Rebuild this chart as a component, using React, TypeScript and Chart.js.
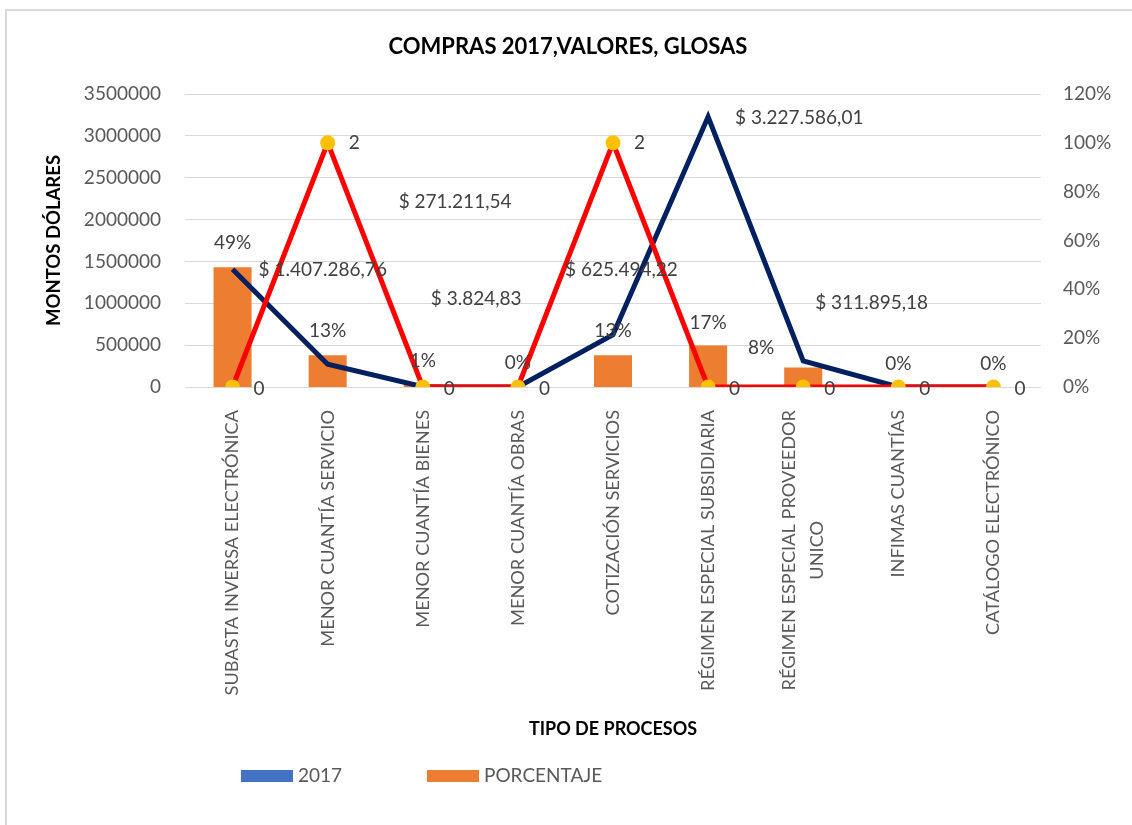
import React, { useEffect, useRef } from "react";
import { Chart, registerables } from "chart.js";

Chart.register(...registerables);

// ---------- DATA ----------
const categories: string[][] = [
  ["SUBASTA INVERSA ELECTRÓNICA"],
  ["MENOR CUANTÍA SERVICIO"],
  ["MENOR CUANTÍA BIENES"],
  ["MENOR CUANTÍA OBRAS"],
  ["COTIZACIÓN SERVICIOS"],
  ["RÉGIMEN ESPECIAL SUBSIDIARIA"],
  ["RÉGIMEN ESPECIAL PROVEEDOR", "UNICO"],
  ["INFIMAS CUANTÍAS"],
  ["CATÁLOGO ELECTRÓNICO"],
];
const montos2017: number[] = [1407286.76, 271211.54, 3824.83, 0, 625494.22, 3227586.01, 311895.18, 0, 0];
const montosLabelShown: boolean[] = [true, true, true, false, true, true, true, false, false];
const porcentaje: number[] = [0.49, 0.13, 0.01, 0, 0.13, 0.17, 0.08, 0, 0];
const glosas: number[] = [0, 2, 0, 0, 2, 0, 0, 0, 0];

const leftMax = 3500000;
const leftStep = 500000;
const rightMax = 1.2;
const rightStep = 0.2;

const TITLE = "COMPRAS 2017,VALORES, GLOSAS";
const Y_TITLE = "MONTOS DÓLARES";
const X_TITLE = "TIPO DE PROCESOS";
const LEGEND_2017 = "2017";
const LEGEND_PCT = "PORCENTAJE";

// ---------- STYLE ----------
const FONT = "Lato, 'Open Sans', sans-serif";
const TICK_SIZE = 19;
const CAT_SIZE = 18.2;
const TEXT_GRAY = "#595959";
const LABEL_GRAY = "#404040";
const NAVY = "#002060";
const RED = "#FF0000";
const YELLOW = "#FFC000";
const ORANGE = "#ED7D31";
const BLUE = "#4472C4";
const GRID = "#D9D9D9";

// manual label placements (Excel-style moved labels): [dx to left edge, dy]
const montoLabelShift: [number, number][] = [
  [26, 1], [71, -162], [8, -88], [0, 0], [-48, -65], [27, 1], [12, -58], [0, 0], [0, 0],
];
const pctLabelShift: [number, number][] = [
  [0, -24], [0, -24], [0, -24], [0, -24], [0, -24], [0, -23], [-42, -20], [0, -23], [0, -23],
];

const fmtMoney = (v: number) => {
  const [i, d] = v.toFixed(2).split(".");
  return "$ " + i.replace(/\B(?=(\d{3})+(?!\d))/g, ".") + "," + d;
};
const fmtPct = (v: number) => Math.round(v * 100) + "%";

const extrasPlugin = {
  id: "extras",
  beforeDraw(chart: any) {
    const ctx = chart.ctx as CanvasRenderingContext2D;
    ctx.save();
    ctx.fillStyle = "#ffffff";
    ctx.fillRect(0, 0, chart.width, chart.height);
    ctx.fillStyle = GRID;
    ctx.fillRect(5, 9, chart.width, 2);
    ctx.fillRect(5, 9, 2, chart.height);
    ctx.restore();
  },
  afterDatasetsDraw(chart: any) {
    const ctx = chart.ctx as CanvasRenderingContext2D;
    ctx.save();
    ctx.font = `${TICK_SIZE}px ${FONT}`;
    ctx.fillStyle = LABEL_GRAY;
    ctx.textBaseline = "middle";
    // bar labels
    const barMeta = chart.getDatasetMeta(0);
    barMeta.data.forEach((el: any, i: number) => {
      const [dx, dy] = pctLabelShift[i];
      ctx.textAlign = "center";
      ctx.fillText(fmtPct(porcentaje[i]), el.x + dx, el.y + dy);
    });
    // monto labels
    const lineMeta = chart.getDatasetMeta(1);
    lineMeta.data.forEach((el: any, i: number) => {
      if (!montosLabelShown[i]) return;
      const [dx, dy] = montoLabelShift[i];
      ctx.textAlign = "left";
      ctx.fillText(fmtMoney(montos2017[i]), el.x + dx, el.y + dy);
    });
    // glosas labels
    const gMeta = chart.getDatasetMeta(2);
    gMeta.data.forEach((el: any, i: number) => {
      ctx.textAlign = "left";
      ctx.fillText(String(glosas[i]), el.x + 21, el.y + (glosas[i] === 0 ? 2 : 0));
    });
    ctx.restore();
  },
  afterDraw(chart: any) {
    const ctx = chart.ctx as CanvasRenderingContext2D;
    const area = chart.chartArea;
    ctx.save();
    // title
    ctx.fillStyle = "#000000";
    ctx.font = `bold 22px ${FONT}`;
    ctx.textAlign = "center";
    ctx.textBaseline = "middle";
    ctx.fillText(TITLE, 568, 47);

    // x axis title
    ctx.font = `bold 18px ${FONT}`;
    ctx.fillText(X_TITLE, (area.left + area.right) / 2, 729);

    // x category labels (rotated)
    const xs = chart.scales.x;
    ctx.font = `${CAT_SIZE}px ${FONT}`;
    ctx.fillStyle = TEXT_GRAY;
    categories.forEach((lines, i) => {
      const px = xs.getPixelForValue(i);
      const lh = 28;
      ctx.save();
      ctx.translate(px - ((lines.length - 1) * lh) / 2, area.bottom + 23);
      ctx.rotate(-Math.PI / 2);
      const w0 = ctx.measureText(lines[0]).width;
      lines.forEach((ln, j) => {
        ctx.textAlign = "center";
        ctx.textBaseline = "middle";
        ctx.fillText(ln, -w0 / 2, j * lh);
      });
      ctx.restore();
    });

    // legend
    ctx.textAlign = "left";
    ctx.textBaseline = "middle";
    ctx.font = `${TICK_SIZE}px ${FONT}`;
    ctx.fillStyle = BLUE;
    ctx.fillRect(241, 770, 52, 12);
    ctx.fillStyle = TEXT_GRAY;
    ctx.fillText(LEGEND_2017, 298, 776);
    ctx.fillStyle = ORANGE;
    ctx.fillRect(427, 770, 52, 12);
    ctx.fillStyle = TEXT_GRAY;
    ctx.fillText(LEGEND_PCT, 484, 776);
    ctx.restore();
  },
};

export default function App() {
  const ref = useRef<HTMLCanvasElement | null>(null);
  useEffect(() => {
    if (!ref.current) return;
    const chart = new Chart(ref.current, {
      type: "bar",
      data: {
        labels: categories.map((c) => c.join(" ")),
        datasets: [
          {
            type: "bar",
            label: LEGEND_PCT,
            data: porcentaje,
            backgroundColor: ORANGE,
            yAxisID: "y1",
            barPercentage: 0.4,
            categoryPercentage: 1,
            order: 3,
          },
          {
            type: "line",
            label: LEGEND_2017,
            data: montos2017,
            borderColor: NAVY,
            borderWidth: 5,
            pointRadius: 0,
            tension: 0,
            yAxisID: "y",
            order: 2,
          },
          {
            type: "line",
            label: "GLOSAS",
            data: glosas,
            borderColor: RED,
            borderWidth: 5,
            pointRadius: 7.5,
            pointBackgroundColor: YELLOW,
            pointBorderWidth: 0,
            pointBorderColor: YELLOW,
            tension: 0,
            yAxisID: "y2",
            order: 1,
          },
        ] as any,
      },
      options: {
        responsive: false,
        maintainAspectRatio: false,
        animation: false,
        devicePixelRatio: 1,
        layout: { padding: { top: 94, bottom: 0, left: 0, right: 0 } },
        plugins: {
          legend: { display: false },
          title: { display: false },
          tooltip: { enabled: false },
        },
        scales: {
          x: {
            grid: { display: false },
            border: { display: false },
            ticks: { display: false },
            afterFit: (s: any) => {
              s.height = 825 - 387;
            },
          },
          y: {
            position: "left",
            min: 0,
            max: leftMax,
            ticks: {
              stepSize: leftStep,
              padding: 24,
              color: TEXT_GRAY,
              font: { family: FONT, size: TICK_SIZE },
              callback: (v: any) => String(v),
            },
            grid: { color: GRID, lineWidth: 1, drawTicks: false },
            border: { display: false },
            title: {
              display: true,
              text: Y_TITLE,
              color: "#000000",
              font: { family: FONT, size: 18.5, weight: "bold" },
              padding: { top: 43, bottom: 0 },
            },
            afterFit: (s: any) => {
              s.width = 185;
            },
          },
          y1: {
            position: "right",
            min: 0,
            max: rightMax,
            ticks: {
              stepSize: rightStep,
              padding: 22,
              color: TEXT_GRAY,
              font: { family: FONT, size: TICK_SIZE },
              callback: (v: any) => fmtPct(Number(v)),
            },
            grid: { display: false, drawTicks: false },
            border: { display: false },
            afterFit: (s: any) => {
              s.width = 1132 - 1041;
            },
          },
          y2: { display: false, min: 0, max: 2.4 },
        },
      } as any,
      plugins: [extrasPlugin],
    });
    return () => chart.destroy();
  }, []);
  return (
    <div style={{ position: "absolute", left: 0, top: 0, width: 1132, height: 825 }}>
      <canvas ref={ref} width={1132} height={825} style={{ display: "block" }} />
    </div>
  );
}
